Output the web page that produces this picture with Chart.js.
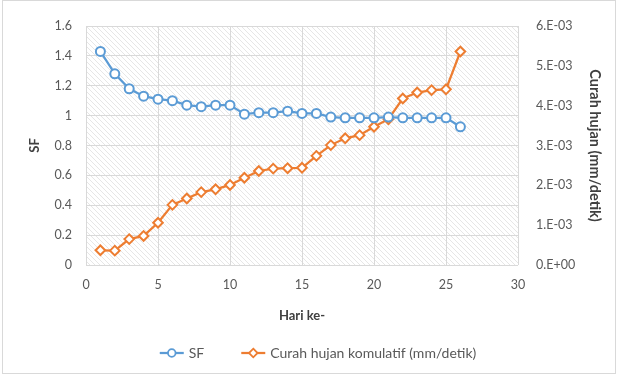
<!DOCTYPE html>
<html>
<head>
<meta charset="utf-8">
<script src="https://cdn.jsdelivr.net/npm/chart.js@4/dist/chart.umd.min.js"></script>
<style>
  html, body { margin: 0; padding: 0; background: #ffffff; }
  #wrap { width: 617px; height: 377px; position: relative; }
</style>
</head>
<body>
<div id="wrap"><canvas id="chart" width="617" height="377"></canvas></div>
<script>
// Day index (Hari ke-)
const days = [1, 2, 3, 4, 5, 6, 7, 8, 9, 10, 11, 12, 13, 14, 15, 16, 17, 18, 19, 20, 21, 22, 23, 24, 25, 26];

// Safety factor per day
const sfValues = [1.43, 1.28, 1.18, 1.13, 1.11, 1.10, 1.07, 1.06, 1.07, 1.07,
                  1.01, 1.02, 1.02, 1.03, 1.015, 1.015, 0.99, 0.985, 0.985, 0.985,
                  0.99, 0.985, 0.985, 0.985, 0.985, 0.925];

// Cumulative rainfall (mm/detik)
const rainValues = [0.00037, 0.00036, 0.00065, 0.00073, 0.00106, 0.00151, 0.00167, 0.00183, 0.00190, 0.00201,
                    0.00219, 0.00236, 0.00242, 0.00243, 0.00244, 0.00274, 0.00301, 0.00318, 0.00326, 0.00347,
                    0.00366, 0.00418, 0.00433, 0.00439, 0.00441, 0.00536];

// Axis ranges / ticks
const xTicks = [0, 5, 10, 15, 20, 25, 30];
const sfTicks = [0, 0.2, 0.4, 0.6, 0.8, 1.0, 1.2, 1.4, 1.6];
const rainTicks = [0, 0.001, 0.002, 0.003, 0.004, 0.005, 0.006];

const seriesNames = ['SF', 'Curah hujan komulatif (mm/detik)'];
const BLUE = '#5b9bd5';
const ORANGE = '#ed7d31';
const TICK_COLOR = '#595959';
const TITLE_COLOR = '#404040';
const FONT = 'Lato, "Open Sans", sans-serif';

// Scientific label like 6.E-03 / 0.E+00
function sciLabel(v) {
  if (Math.abs(v) < 1e-12) return '0.E+00';
  const exp = Math.floor(Math.log10(Math.abs(v)) + 1e-9);
  const mant = Math.round(v / Math.pow(10, exp));
  const sign = exp < 0 ? '-' : '+';
  const e = String(Math.abs(exp)).padStart(2, '0');
  return mant + '.E' + sign + e;
}

// Light diagonal hatch for the plot background
function hatchPattern(ctx) {
  const c = document.createElement('canvas');
  c.width = 5; c.height = 5;
  const g = c.getContext('2d');
  g.fillStyle = '#ffffff';
  g.fillRect(0, 0, 5, 5);
  g.strokeStyle = '#e6e6e6';
  g.lineWidth = 1;
  g.beginPath();
  g.moveTo(0, 0); g.lineTo(5, 5);
  g.moveTo(-1, 4); g.lineTo(1, 6);
  g.moveTo(4, -1); g.lineTo(6, 1);
  g.stroke();
  return ctx.createPattern(c, 'repeat');
}

function drawMarker(g, shape, x, y, color) {
  g.save();
  g.fillStyle = '#ffffff';
  g.strokeStyle = color;
  g.lineWidth = 1.8;
  g.beginPath();
  if (shape === 'circle') {
    g.arc(x, y, 3.8, 0, Math.PI * 2);
  } else {
    const r = 4.3;
    g.moveTo(x, y - r); g.lineTo(x + r, y);
    g.lineTo(x, y + r); g.lineTo(x - r, y); g.closePath();
  }
  g.fill(); g.stroke();
  g.restore();
}

const sfPoints = days.map((d, i) => ({ x: d, y: sfValues[i] }));
const rainPoints = days.map((d, i) => ({ x: d, y: rainValues[i] }));

const backdrop = {
  id: 'backdrop',
  beforeDraw(chart) {
    const { ctx, chartArea: a } = chart;
    ctx.save();
    ctx.fillStyle = '#ffffff';
    ctx.fillRect(0, 0, chart.width, chart.height);
    ctx.fillStyle = hatchPattern(ctx);
    ctx.fillRect(a.left, a.top, a.right - a.left, a.bottom - a.top);
    ctx.strokeStyle = '#d9d9d9';
    ctx.lineWidth = 1;
    ctx.strokeRect(2.5, 0.5, chart.width - 4, chart.height - 4);
    ctx.restore();
  }
};

// Legend row: line swatch with marker, then the series name
const lineLegend = {
  id: 'lineLegend',
  afterDraw(chart, args, opts) {
    const { ctx } = chart;
    const sw = 24, textGap = 5, itemGap = 37;
    ctx.save();
    ctx.font = '14px ' + FONT;
    ctx.textBaseline = 'middle';
    ctx.textAlign = 'left';
    const items = chart.data.datasets.map((ds, i) => ({
      ds, shape: i === 0 ? 'circle' : 'diamond', w: ctx.measureText(ds.label).width
    }));
    let total = 0;
    items.forEach((it, i) => { total += sw + textGap + it.w + (i < items.length - 1 ? itemGap : 0); });
    let x = opts.centerX - total / 2;
    const y = opts.y;
    items.forEach(it => {
      ctx.strokeStyle = it.ds.borderColor;
      ctx.lineWidth = 2.25;
      ctx.beginPath(); ctx.moveTo(x, y); ctx.lineTo(x + sw, y); ctx.stroke();
      drawMarker(ctx, it.shape, x + sw / 2, y, it.ds.borderColor);
      ctx.fillStyle = TICK_COLOR;
      ctx.fillText(it.ds.label, x + sw + textGap, y + 0.5);
      x += sw + textGap + it.w + itemGap;
    });
    ctx.restore();
  }
};

const ctx = document.getElementById('chart').getContext('2d');
new Chart(ctx, {
  type: 'line',
  data: {
    datasets: [
      {
        label: seriesNames[0],
        data: sfPoints,
        yAxisID: 'y',
        borderColor: BLUE,
        backgroundColor: '#ffffff',
        borderWidth: 2.25,
        pointStyle: 'circle',
        pointRadius: 4.5,
        pointBorderWidth: 2,
        pointBackgroundColor: '#ffffff',
        pointBorderColor: BLUE,
        tension: 0
      },
      {
        label: seriesNames[1],
        data: rainPoints,
        yAxisID: 'y1',
        borderColor: ORANGE,
        backgroundColor: '#ffffff',
        borderWidth: 2.25,
        pointStyle: 'rectRot',
        pointRadius: 4.8,
        pointBorderWidth: 2,
        pointBackgroundColor: '#ffffff',
        pointBorderColor: ORANGE,
        tension: 0
      }
    ]
  },
  options: {
    responsive: false,
    animation: false,
    devicePixelRatio: 1,
    layout: { padding: { left: 23, right: 10, top: 26, bottom: 52 } },
    plugins: {
      tooltip: { enabled: false },
      legend: { display: false },
      lineLegend: { centerX: 318, y: 353 }
    },
    scales: {
      x: {
        type: 'linear',
        min: xTicks[0],
        max: xTicks[xTicks.length - 1],
        afterBuildTicks(scale) { scale.ticks = xTicks.map(v => ({ value: v })); },
        afterFit(scale) { scale.height = 60; },
        grid: { color: '#d9d9d9', lineWidth: 1, drawTicks: false },
        border: { display: false },
        ticks: { color: TICK_COLOR, font: { family: FONT, size: 12.5 }, padding: 12, maxRotation: 0 },
        title: {
          display: true, text: 'Hari ke-', color: TITLE_COLOR,
          font: { family: FONT, size: 13, weight: 'bold' },
          padding: { top: 0, bottom: 1 }
        }
      },
      y: {
        type: 'linear',
        position: 'left',
        min: sfTicks[0],
        max: sfTicks[sfTicks.length - 1],
        afterBuildTicks(scale) { scale.ticks = sfTicks.map(v => ({ value: v })); },
        afterFit(scale) { scale.width = 63; },
        grid: { color: '#d9d9d9', lineWidth: 1, drawTicks: false },
        border: { display: false },
        ticks: {
          color: TICK_COLOR, font: { family: FONT, size: 12.5 }, padding: 14,
          callback: v => String(+v.toFixed(1))
        },
        title: {
          display: true, text: 'SF', color: TITLE_COLOR,
          font: { family: FONT, size: 13, weight: 'bold' },
          padding: { top: 4, bottom: 0 }
        }
      },
      y1: {
        type: 'linear',
        position: 'right',
        min: rainTicks[0],
        max: rainTicks[rainTicks.length - 1],
        afterBuildTicks(scale) { scale.ticks = rainTicks.map(v => ({ value: v })); },
        afterFit(scale) { scale.width = 89; },
        grid: { display: false, drawTicks: false },
        border: { display: false },
        ticks: {
          color: TICK_COLOR, font: { family: FONT, size: 12.5 }, padding: 18,
          callback: v => sciLabel(v)
        },
        title: {
          display: true, text: 'Curah hujan (mm/detik)', color: TITLE_COLOR,
          font: { family: FONT, size: 14.5, weight: 'bold' },
          padding: { top: 4, bottom: 0 }
        }
      }
    }
  },
  plugins: [backdrop, lineLegend]
});
</script>
</body>
</html>
